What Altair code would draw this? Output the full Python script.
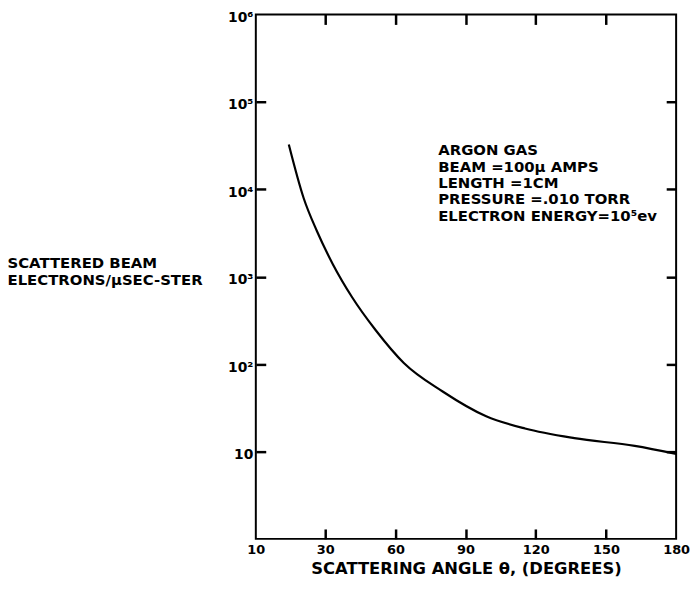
import altair as alt
import pandas as pd

# Curve
angles = [19.5, 23.8, 27.6, 33.2, 41.5, 51.6, 63.6, 80.2, 98.8, 115.4, 136.5, 162.3, 180]
electrons = [32600, 7900, 3330, 1400, 582, 244, 103, 48.6, 25.3, 18.3, 14.2, 11.6, 9.4]

x_ticks = [10, 30, 60, 90, 120, 150, 180]
x_inner_ticks = [30, 60, 90, 120, 150]
y_ticks = [10, 100, 1000, 10000, 100000, 1000000]
y_inner_ticks = [10, 100, 1000, 10000, 100000]

note_lines = ["ARGON GAS", "BEAM =100\u00b5 AMPS", "LENGTH =1CM",
              "PRESSURE =.010 TORR", "ELECTRON  ENERGY=10\u2075ev"]
y_title = ["SCATTERED BEAM", "ELECTRONS/\u00b5SEC-STER"]
x_title = "SCATTERING   ANGLE \u03b8,   (DEGREES)"

W, H = 424, 529
FONT = "DejaVu Sans"
TICK = 10

curve = pd.DataFrame({"angle": angles, "value": electrons})

xscale = alt.Scale(domain=[10, 30, 180], range=[0, 70, W], nice=False, zero=False)
yscale = alt.Scale(type="log", domain=[1, 1000000], nice=False)

xaxis = alt.Axis(values=x_ticks, ticks=False, domain=False, grid=False, orient="bottom",
                 labelFont=FONT, labelFontSize=13, labelFontWeight="bold", labelColor="black",
                 labelPadding=5, title=x_title, titleFont=FONT, titleFontSize=16.5,
                 titleFontWeight="bold", titleColor="black", titlePadding=4,
                 labelFlush=False)
yaxis = alt.Axis(values=y_ticks, ticks=False, domain=False, grid=False, orient="left",
                 labelFont=FONT, labelFontSize=14, labelFontWeight="bold", labelColor="black",
                 labelPadding=3, labelBaseline="middle", labelOffset=3,
                 labelExpr="datum.value == 10 ? '10' : datum.value == 100 ? '10\u00b2' : datum.value == 1000 ? '10\u00b3' : datum.value == 10000 ? '10\u2074' : datum.value == 100000 ? '10\u2075' : '10\u2076'",
                 title=y_title, titleFont=FONT, titleFontSize=15, titleFontWeight="bold",
                 titleColor="black", titleAngle=0, titleAlign="left", titleBaseline="top",
                 titleX=-251, titleY=243, titleLineHeight=17)


def tick_axis(values, orient):
    # ticks only, pulled inside the frame by a negative offset
    return alt.Axis(values=values, orient=orient, offset=-TICK, tickSize=TICK,
                    tickWidth=2.5, tickColor="black", tickOpacity=1, labels=False,
                    domain=False, grid=False, title=None)


line = alt.Chart(curve).mark_line(color="black", strokeWidth=2.2,
                                  interpolate="monotone").encode(
    x=alt.X("angle:Q", scale=xscale, axis=xaxis),
    y=alt.Y("value:Q", scale=yscale, axis=yaxis))

ticks_a = alt.Chart(curve).mark_line(strokeOpacity=0).encode(
    x=alt.X("angle:Q", scale=xscale, axis=tick_axis(x_inner_ticks, "top")),
    y=alt.Y("value:Q", scale=yscale, axis=tick_axis(y_inner_ticks, "left")))

ticks_b = alt.Chart(curve).mark_line(strokeOpacity=0).encode(
    x=alt.X("angle:Q", scale=xscale, axis=tick_axis(x_inner_ticks, "bottom")),
    y=alt.Y("value:Q", scale=yscale, axis=tick_axis(y_inner_ticks, "right")))

note = alt.Chart(pd.DataFrame({"k": [0]})).mark_text(
    text=note_lines, align="left", baseline="top", font=FONT, fontSize=15,
    fontWeight="bold", lineHeight=16.5, color="black").encode(
    x=alt.value(184), y=alt.value(130))

chart = alt.layer(line, ticks_a, ticks_b, note).resolve_axis(
    x="independent", y="independent"
).properties(
    width=W, height=H,
    autosize=alt.AutoSizeParams(type="none"),
    padding={"left": 250, "top": 4, "right": 14, "bottom": 46},
    background="white",
).configure_view(stroke="black", strokeWidth=2)

chart.save("out.html", embed_options={"renderer": "svg", "actions": False})
